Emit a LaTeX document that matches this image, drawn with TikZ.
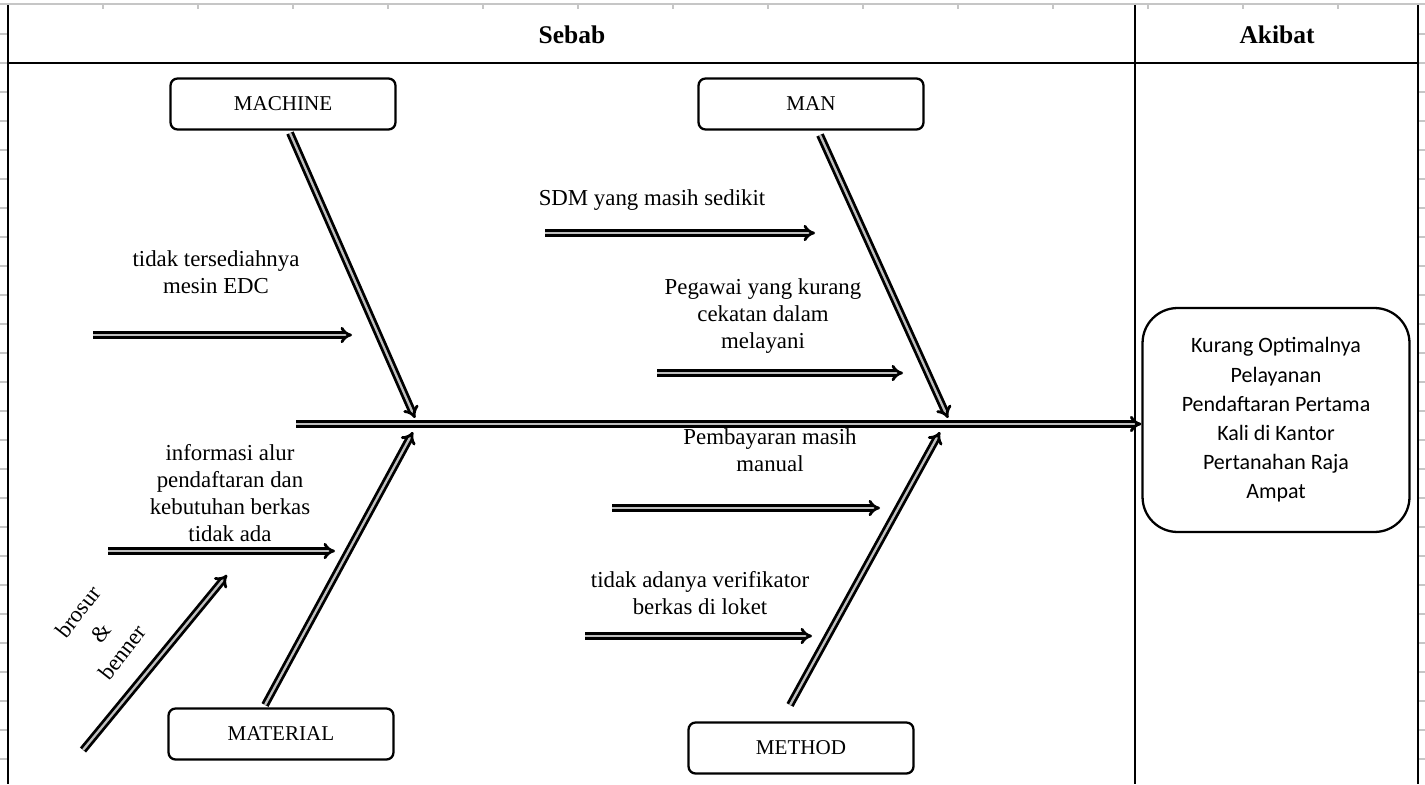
\documentclass[tikz,border=0pt]{standalone}
\usepackage{fontspec}
\setmainfont{Liberation Serif}
\newfontfamily\calibrifont{Carlito}
\usetikzlibrary{arrows}

\tikzset{
  bone/.style={double=gray!50, double distance=1.3pt, line width=1.6pt, -implies},
  catbox/.style={draw, line width=1.3pt, rounded corners=4pt, minimum width=4.5cm, minimum height=1.02cm, font=\fontsize{12}{14}\selectfont},
  causetext/.style={align=center, font=\fontsize{13}{15.4}\selectfont},
  slanttext/.style={rotate=52, inner sep=0pt, font=\fontsize{13}{15.4}\selectfont},
  tick/.style={gray!45, line width=0.6pt}
}

\begin{document}
\begin{tikzpicture}[x=0.02cm, y=-0.02cm]
  \useasboundingbox (0,0) rectangle (1425,784);
  % grid ticks
  \draw[gray!45, line width=0.8pt] (0,4) -- (1425,4);
  \foreach \tx in {8,103,...,1425} \draw[tick] (\tx,4) -- (\tx,9);
  \foreach \ty in {34,63,...,784} {
    \draw[tick] (0,\ty) -- (8,\ty);
    \draw[tick] (1418,\ty) -- (1425,\ty);
  }
  % table
  \draw[line width=0.8pt] (8,5) -- (8,784);
  \draw[line width=0.8pt] (1135,5) -- (1135,784);
  \draw[line width=0.8pt] (1418,5) -- (1418,784);
  \draw[line width=0.8pt] (8,63) -- (1418,63);
  \node[font=\fontsize{14.5}{16}\selectfont\bfseries] (sebab) at (572,35) {Sebab};
  \node[font=\fontsize{14.5}{16}\selectfont\bfseries] (akibat) at (1277,35) {Akibat};

  % categories
  \node[catbox] (machine) at (283,104) {MACHINE};
  \node[catbox] (man) at (811,104) {MAN};
  \node[catbox] (material) at (281,734) {MATERIAL};
  \node[catbox] (method) at (801,748) {METHOD};

  % effect
  \node[draw, line width=1.3pt, rounded corners=0.7cm, minimum width=5.34cm, minimum height=4.48cm,
        align=center, font=\calibrifont\fontsize{12.5}{16.6}\selectfont] (effect) at (1276,420)
    {Kurang Optimalnya\\Pelayanan\\Pendaftaran Pertama\\Kali di Kantor\\Pertanahan Raja\\Ampat};

  % spine
  \coordinate (tail) at (296,424);
  \draw[bone] (tail) -- (effect.west |- tail);

  % bones
  \coordinate (mc1) at (290,133);  \coordinate (mc2) at (415,418);
  \coordinate (mn1) at (820,135);  \coordinate (mn2) at (948,418);
  \coordinate (mt1) at (265,705);  \coordinate (mt2) at (413,432);
  \coordinate (me1) at (790,705);  \coordinate (me2) at (940,432);
  \draw[bone] (mc1) -- (mc2);
  \draw[bone] (mn1) -- (mn2);
  \draw[bone] (mt1) -- (mt2);
  \draw[bone] (me1) -- (me2);

  % causes
  \node[causetext] (edc) at (216,272) {tidak tersediahnya\\mesin EDC};
  \coordinate (edc1) at (93,335);  \coordinate (edc2) at (352,335);
  \draw[bone] (edc1) -- (edc2);

  \node[causetext] (sdm) at (652,200) {SDM yang masih sedikit};
  \coordinate (sdm1) at (545,233);  \coordinate (sdm2) at (815,233);
  \draw[bone] (sdm1) -- (sdm2);

  \node[causetext] (pegawai) at (763,316) {Pegawai yang kurang\\cekatan dalam\\melayani};
  \coordinate (peg1) at (657,373);  \coordinate (peg2) at (903,373);
  \draw[bone] (peg1) -- (peg2);

  \node[causetext] (info) at (230,493) {informasi alur\\pendaftaran dan\\kebutuhan berkas\\tidak ada};
  \coordinate (inf1) at (108,551);  \coordinate (inf2) at (335,551);
  \draw[bone] (inf1) -- (inf2);

  \node[slanttext] (brosur) at (78,612) {brosur};
  \node[slanttext] (dan) at (101,633) {\&};
  \node[slanttext] (benner) at (122,652) {benner};
  \coordinate (bro1) at (83,750);  \coordinate (bro2) at (227,575);
  \draw[bone] (bro1) -- (bro2);

  \node[causetext] (bayar) at (770,450) {Pembayaran masih\\manual};
  \coordinate (bay1) at (612,508);  \coordinate (bay2) at (880,508);
  \draw[bone] (bay1) -- (bay2);

  \node[causetext] (verif) at (700,593) {tidak adanya verifikator\\berkas di loket};
  \coordinate (ver1) at (585,636);  \coordinate (ver2) at (812,636);
  \draw[bone] (ver1) -- (ver2);
\end{tikzpicture}
\end{document}
